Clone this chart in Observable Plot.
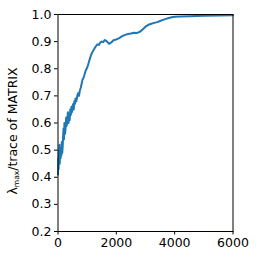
<!DOCTYPE html>
<html>
<head>
<meta charset="utf-8">
<script src="https://cdn.jsdelivr.net/npm/d3@7"></script>
<script src="https://cdn.jsdelivr.net/npm/@observablehq/plot@0.6"></script>
<style>
  html, body { margin: 0; padding: 0; background: #fff; }
  #chart svg { display: block; }
</style>
</head>
<body>
<div id="chart"></div>
<script>
const iterations = [0,10,20,30,40,50,60,70,80,90,100,115,130,145,160,175,190,205,220,240,260,280,300,320,340,360,380,400,420,440,460,480,500,520,540,560,580,600,630,660,690,720,750,780,810,840,870,900,940,980,1020,1060,1100,1150,1200,1250,1300,1350,1400,1450,1500,1550,1600,1650,1700,1750,1800,1850,1900,2000,2100,2200,2300,2400,2500,2600,2700,2800,2900,3000,3100,3200,3300,3400,3500,3600,3700,3800,3900,4000,4200,4500,5000,5500,6000];
const ratio = [0.41,0.47,0.43,0.50,0.46,0.52,0.45,0.49,0.51,0.47,0.50,0.48,0.53,0.49,0.51,0.55,0.58,0.54,0.60,0.56,0.58,0.62,0.59,0.61,0.64,0.60,0.63,0.61,0.65,0.63,0.66,0.64,0.66,0.67,0.65,0.68,0.67,0.69,0.68,0.70,0.71,0.70,0.72,0.73,0.745,0.76,0.765,0.775,0.79,0.80,0.81,0.825,0.84,0.855,0.865,0.875,0.883,0.89,0.888,0.897,0.90,0.898,0.906,0.903,0.898,0.892,0.895,0.899,0.905,0.908,0.913,0.92,0.925,0.928,0.93,0.933,0.932,0.936,0.945,0.955,0.962,0.966,0.969,0.972,0.976,0.98,0.984,0.987,0.99,0.992,0.993,0.994,0.995,0.996,0.997];
const xTicks = [0,2000,4000,6000];
const yTicks = [0.2,0.3,0.4,0.5,0.6,0.7,0.8,0.9,1.0];

const data = iterations.map((x, i) => ({x, y: ratio[i]}));

const chart = Plot.plot({
  width: 259,
  height: 263,
  marginLeft: 57.5,
  marginRight: 26.5,
  marginTop: 14,
  marginBottom: 32,
  style: {fontFamily: "DejaVu Sans", fontSize: "12.5px", color: "#000", background: "#fff"},
  x: {domain: [0, 6000]},
  y: {domain: [0.2, 1.0]},
  marks: [
    Plot.line(data, {x: "x", y: "y", stroke: "#1f77b4", strokeWidth: 2}),
    Plot.frame({stroke: "#000", strokeWidth: 1}),
    Plot.axisX({ticks: xTicks, tickFormat: d => String(d), tickSize: 3.5, tickPadding: 3, label: null, fontSize: 12.5, strokeWidth: 1}),
    Plot.axisY({ticks: yTicks, tickFormat: d3.format(".1f"), tickSize: 3.5, tickPadding: 3, label: null, fontSize: 12.5, strokeWidth: 1})
  ]
});

const svg = d3.select(chart);
const label = svg.append("text")
  .attr("transform", "translate(17,131) rotate(-90)")
  .attr("text-anchor", "middle")
  .attr("font-family", "DejaVu Sans")
  .attr("font-size", 12.5)
  .attr("fill", "#000");
label.append("tspan").text("λ");
label.append("tspan").attr("font-size", 7.5).attr("dy", 2).text("max");
label.append("tspan").attr("dy", -2).text("/trace of MATRIX");

document.getElementById("chart").appendChild(chart);
</script>
</body>
</html>
